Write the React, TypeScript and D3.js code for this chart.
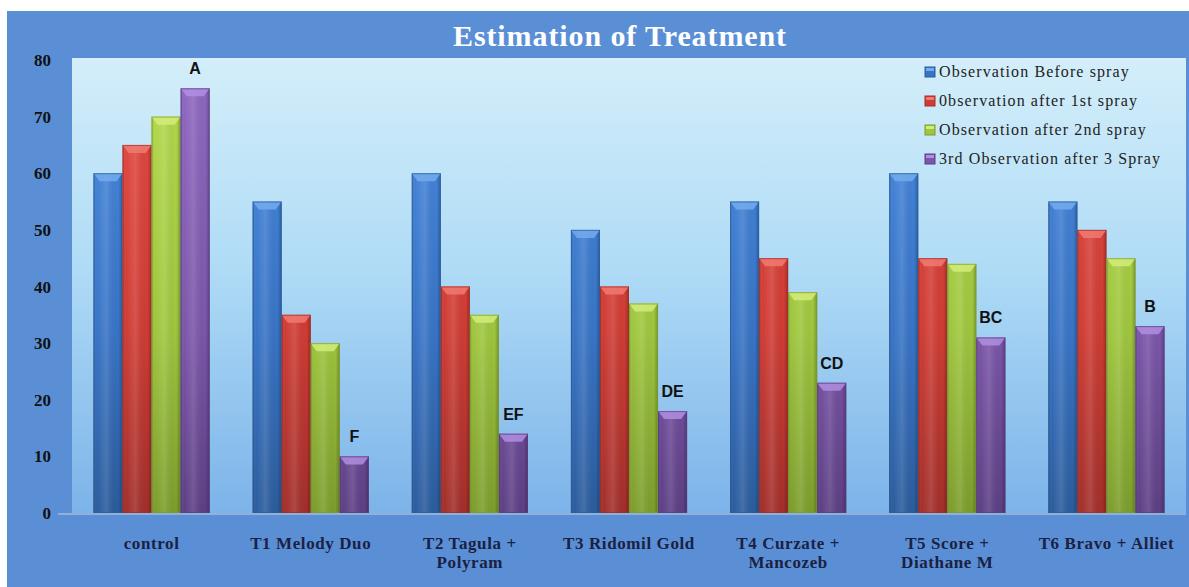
import React from "react";
import * as d3 from "d3";

const categories = [
  ["control"],
  ["T1 Melody Duo"],
  ["T2 Tagula +", "Polyram"],
  ["T3 Ridomil Gold"],
  ["T4 Curzate +", "Mancozeb"],
  ["T5 Score +", "Diathane M"],
  ["T6 Bravo + Alliet"],
];
const seriesNames = [
  "Observation Before spray",
  "0bservation after 1st spray",
  " Observation after 2nd spray",
  "3rd Observation after 3 Spray",
];
const beforeSpray = [60, 55, 60, 50, 55, 60, 55];
const afterFirst = [65, 35, 40, 40, 45, 45, 50];
const afterSecond = [70, 30, 35, 37, 39, 44, 45];
const afterThird = [75, 10, 14, 18, 23, 31, 33];
const groupLetters = ["A", "F", "EF", "DE", "CD", "BC", "B"];
const yTicks = [0, 10, 20, 30, 40, 50, 60, 70, 80];

const W = 1189;
const H = 587;
const plot = { left: 72, right: 1186, top: 60, bottom: 513 };

// light, mid, dark, cap
const palette = [
  ["#4a8be0", "#3874c6", "#2b5c9c", "#74acef"],
  ["#e44b43", "#cf3c34", "#a22f2a", "#f07a72"],
  ["#b6db4e", "#9fc63e", "#7c9d2c", "#d2ec7a"],
  ["#9069c2", "#7c56aa", "#5d3f84", "#b08ee0"],
];

const App = () => {
  const series = [beforeSpray, afterFirst, afterSecond, afterThird];
  const x0 = d3
    .scaleBand<number>()
    .domain(d3.range(categories.length))
    .range([plot.left, plot.right])
    .paddingInner(0.27)
    .paddingOuter(0.135);
  const x1 = d3
    .scaleBand<number>()
    .domain(d3.range(series.length))
    .range([0, x0.bandwidth()]);
  const y = d3.scaleLinear().domain([0, 80]).range([plot.bottom, plot.top]);

  const serif = "'Liberation Serif', 'DejaVu Serif', serif";
  const sans = "'Liberation Sans', Arial, sans-serif";

  return (
    <div style={{ position: "absolute", left: 0, top: 0 }}>
      <svg width={W} height={H} style={{ display: "block" }}>
        <defs>
          <linearGradient id="plotBg" x1="0" y1="0" x2="0" y2="1">
            <stop offset="0" stopColor="#d4eefa" />
            <stop offset="0.45" stopColor="#b0dcf6" />
            <stop offset="1" stopColor="#7cb3e9" />
          </linearGradient>
          {palette.map((c, i) => (
            <linearGradient
              key={i}
              id={`bar${i}`}
              gradientUnits="userSpaceOnUse"
              x1="0"
              y1={plot.top}
              x2="0"
              y2={plot.bottom}
            >
              <stop offset="0" stopColor={c[0]} />
              <stop offset="0.6" stopColor={c[1]} />
              <stop offset="1" stopColor={c[2]} />
            </linearGradient>
          ))}
          <linearGradient id="sheen" x1="0" y1="0" x2="1" y2="0">
            <stop offset="0" stopColor="#000" stopOpacity="0.18" />
            <stop offset="0.12" stopColor="#fff" stopOpacity="0" />
            <stop offset="0.45" stopColor="#fff" stopOpacity="0.12" />
            <stop offset="0.85" stopColor="#000" stopOpacity="0" />
            <stop offset="1" stopColor="#000" stopOpacity="0.25" />
          </linearGradient>
        </defs>

        <rect x={0} y={0} width={W} height={H} fill="#fff" />
        <rect x={7} y={11} width={W} height={H} fill="#5a8fd6" />
        <rect
          x={plot.left}
          y={plot.top - 2}
          width={plot.right - plot.left}
          height={plot.bottom - plot.top + 2}
          fill="url(#plotBg)"
        />
        <line
          x1={58}
          x2={plot.right}
          y1={plot.bottom + 1}
          y2={plot.bottom + 1}
          stroke="#8fb0d8"
          strokeWidth={2}
        />

        <text
          x={620}
          y={46}
          textAnchor="middle"
          fill="#fff"
          fontFamily={serif}
          fontWeight="bold"
          fontSize={30}
          letterSpacing={0.9}
        >
          Estimation of Treatment
        </text>

        {yTicks.map(t => (
          <text
            key={t}
            x={51}
            y={y(t) + 6}
            textAnchor="end"
            fontFamily={serif}
            fontWeight="bold"
            fontSize={17}
            fill="#111"
          >
            {t}
          </text>
        ))}

        {categories.map((lines, ci) => {
          const gx = x0(ci) ?? 0;
          return (
            <g key={ci}>
              {series.map((vals, si) => {
                const bx = gx + (x1(si) ?? 0);
                const bw = x1.bandwidth();
                const top = y(vals[ci]);
                const h = plot.bottom - top;
                const cap = `${bx},${top} ${bx + bw},${top} ${bx + bw - 6},${top + 8} ${bx + 6},${top + 8}`;
                return (
                  <g key={si}>
                    <rect x={bx} y={top} width={bw} height={h} fill={`url(#bar${si})`} />
                    <rect x={bx} y={top} width={bw} height={h} fill="url(#sheen)" />
                    <polygon points={cap} fill={palette[si][3]} opacity={0.85} />
                    <rect
                      x={bx + 0.5}
                      y={top + 0.5}
                      width={bw - 1}
                      height={h - 1}
                      fill="none"
                      stroke={palette[si][2]}
                      strokeOpacity={0.7}
                    />
                  </g>
                );
              })}
              <text
                x={gx + (x1(3) ?? 0) + x1.bandwidth() / 2}
                y={y(afterThird[ci]) - 14}
                textAnchor="middle"
                fontFamily={sans}
                fontWeight="bold"
                fontSize={16}
                fill="#111"
              >
                {groupLetters[ci]}
              </text>
              {lines.map((ln, li) => (
                <text
                  key={li}
                  x={gx + x0.bandwidth() / 2}
                  y={549 + li * 19}
                  textAnchor="middle"
                  fontFamily={serif}
                  fontWeight="bold"
                  fontSize={17}
                  letterSpacing={0.6}
                  fill="#1b2142"
                >
                  {ln}
                </text>
              ))}
            </g>
          );
        })}

        {seriesNames.map((name, i) => (
          <g key={i} transform={`translate(925, ${72 + i * 29})`}>
            <rect x={0} y={-5} width={10} height={10} fill={palette[i][1]} stroke={palette[i][2]} />
            <rect x={1} y={-4} width={8} height={3} fill={palette[i][3]} />
            <text
              x={14}
              y={5}
              fontFamily={serif}
              fontSize={16}
              letterSpacing={1.1}
              fill="#222"
            >
              {name}
            </text>
          </g>
        ))}
      </svg>
    </div>
  );
};

export default App;
